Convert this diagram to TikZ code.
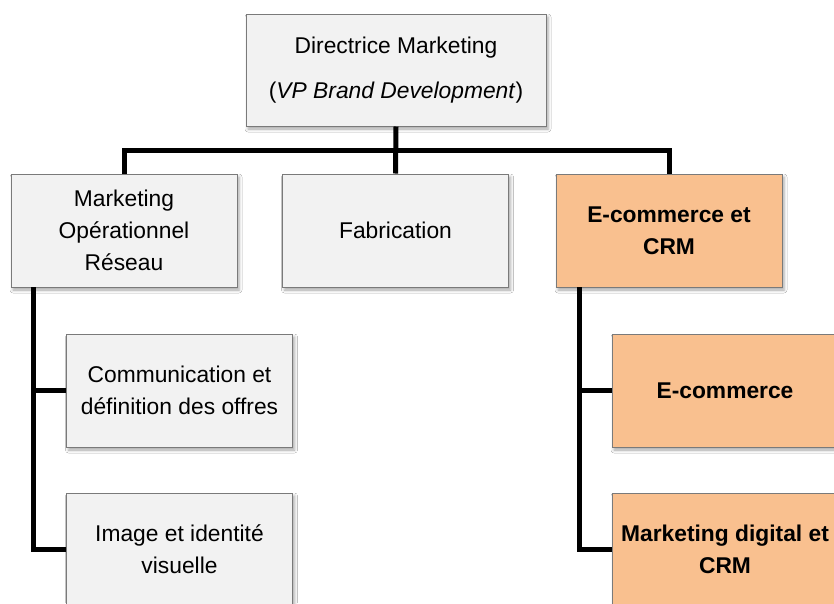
\documentclass[tikz,border=0pt]{standalone}
\usepackage{fontspec}
\setmainfont{Liberation Sans}
\usetikzlibrary{shadows.blur}
\definecolor{boxgrey}{HTML}{F2F2F2}
\definecolor{boxorange}{HTML}{F9C08F}
\definecolor{boxline}{HTML}{7A7A7A}
\begin{document}
\begin{tikzpicture}[x=1pt,y=-1pt,
  unit/.style={draw=boxline, line width=1pt, fill=boxgrey, minimum width=226pt, minimum height=113pt,
    inner sep=0pt, align=center, font=\fontsize{22.8}{32}\selectfont,
    blur shadow={shadow xshift=2pt, shadow yshift=-3pt, shadow blur radius=3pt, shadow opacity=35}},
  hot/.style={unit, fill=boxorange, font=\fontsize{22.8}{32}\selectfont\bfseries},
  conn/.style={line width=5pt, line join=miter}]
\useasboundingbox (0,0) rectangle (834,603);
\clip (0,0) rectangle (834,603);
\fill[white] (0,0) rectangle (834,603);
% nodes
\node[unit, minimum width=300pt, minimum height=112pt] (top) at (396,70)
  {Directrice Marketing\\[13pt](\textit{VP Brand Development})};
\node[unit] (ops) at (124,230.5) {Marketing\\Opérationnel\\Réseau};
\node[unit] (fab) at (395.5,230.5) {Fabrication};
\node[hot] (ecrm) at (669,230.5) {E-commerce et\\CRM};
\node[unit] (comm) at (179.5,390.5) {Communication et\\définition des offres};
\node[unit] (img) at (179.5,549.5) {Image et identité\\visuelle};
\node[hot] (ecom) at (725,390.5) {E-commerce};
\node[hot] (digi) at (725,549.5) {Marketing digital et\\CRM};
% connector points
\coordinate (bar) at (396,150);
\coordinate (lv) at (33,287);
\coordinate (rv) at (579,287);
% connectors
\draw[conn] (top.south) -- (fab.north);
\draw[conn] (ops.north) |- (bar) -| (ecrm.north);
\draw[conn] (lv) |- (comm.west);
\draw[conn] (lv) |- (img.west);
\draw[conn] (rv) |- (ecom.west);
\draw[conn] (rv) |- (digi.west);
\end{tikzpicture}
\end{document}
